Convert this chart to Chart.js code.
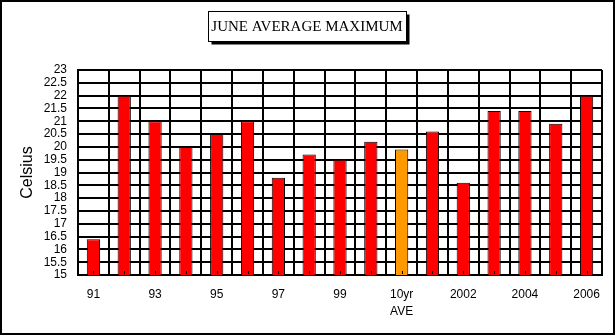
<!DOCTYPE html>
<html>
<head>
<meta charset="utf-8">
<title>June Average Maximum</title>
<script src="https://cdn.jsdelivr.net/npm/chart.js@4/dist/chart.umd.min.js"></script>
<style>
  html, body { margin: 0; padding: 0; background: #fff; }
  canvas { display: block; }
</style>
</head>
<body>
<canvas id="chart" width="616" height="336"></canvas>
<script>
// June average maximum temperature, 1991–2006, with the 1991–2000 ten-year average
const categories = ['91', '92', '93', '94', '95', '96', '97', '98', '99', '2000',
                    ['10yr', 'AVE'], '2001', '2002', '2003', '2004', '2005', '2006'];
const juneMaxCelsius = [16.4, 22.0, 21.0, 20.0, 20.5, 21.0, 18.8, 19.7, 19.5, 20.2,
                        19.9, 20.6, 18.6, 21.4, 21.4, 20.9, 22.0];
const celsiusTicks = [15, 15.5, 16, 16.5, 17, 17.5, 18, 18.5, 19, 19.5,
                      20, 20.5, 21, 21.5, 22, 22.5, 23];
const chartTitle = 'JUNE AVERAGE MAXIMUM';
const axisTitle = 'Celsius';

const AVERAGE_INDEX = categories.findIndex(c => Array.isArray(c) && c[0] === '10yr');
const SANS = "'Liberation Sans', Arial, sans-serif";
const SERIF = "'Liberation Serif', 'Times New Roman', serif";

// Page frame, boxed title with drop shadow, and inward category tick marks
const decorations = {
  id: 'decorations',
  afterLayout(chart) {
    // centre the title on the whole page rather than on the padded area
    const tb = chart.titleBlock;
    tb.left = 0;
    tb.right = chart.width - 2;
    tb.width = tb.right;
  },
  beforeDraw(chart) {
    const ctx = chart.ctx;
    ctx.save();
    ctx.fillStyle = '#fff';
    ctx.fillRect(0, 0, chart.width, chart.height);
    ctx.strokeStyle = '#000';
    ctx.lineWidth = 2;
    ctx.strokeRect(1, 1, chart.width - 3, chart.height - 3);

    const tb = chart.titleBlock;
    const opts = chart.options.plugins.title;
    ctx.font = `${opts.font.size}px ${opts.font.family}`;
    const w = ctx.measureText(chartTitle).width;
    const cx = (tb.left + tb.right) / 2;
    const cy = tb.top + opts.padding.top + opts.font.size * 1.2 / 2;
    const x0 = Math.round(cx - w / 2 - 3) + 0.5;
    const x1 = Math.round(cx + w / 2 + 3) + 0.5;
    const y0 = Math.round(cy - 16) + 0.5;
    const y1 = Math.round(cy + 14) + 0.5;
    ctx.fillStyle = '#000';
    ctx.fillRect(x0 + 3, y0 + 3, x1 - x0, y1 - y0);
    ctx.fillStyle = '#fff';
    ctx.fillRect(x0, y0, x1 - x0, y1 - y0);
    ctx.lineWidth = 1;
    ctx.strokeRect(x0, y0, x1 - x0, y1 - y0);
    ctx.restore();
  },
  afterDatasetsDraw(chart) {
    const ctx = chart.ctx;
    const xs = chart.scales.x;
    const bottom = chart.chartArea.bottom;
    ctx.save();
    ctx.strokeStyle = '#000';
    ctx.lineWidth = 1;
    ctx.beginPath();
    categories.forEach((_, i) => {
      const x = Math.round(xs.getPixelForValue(i)) + 0.5;
      ctx.moveTo(x, bottom - 1);
      ctx.lineTo(x, bottom - 4);
    });
    ctx.stroke();
    ctx.restore();
  }
};

new Chart(document.getElementById('chart'), {
  type: 'bar',
  data: {
    labels: categories,
    datasets: [{
      data: juneMaxCelsius,
      backgroundColor: c => c.dataIndex === AVERAGE_INDEX ? '#FF9900' : '#FF0000',
      borderColor: '#000',
      borderWidth: 1,
      categoryPercentage: 1,
      barPercentage: 0.43
    }]
  },
  options: {
    responsive: false,
    devicePixelRatio: 1,
    animation: false,
    layout: { padding: { top: 0, right: 14, bottom: 0, left: 0 } },
    plugins: {
      legend: { display: false },
      tooltip: { enabled: false },
      title: {
        display: true,
        text: chartTitle,
        color: '#000',
        font: { family: SERIF, size: 15, weight: 'normal' },
        padding: { top: 18, bottom: 34 }
      }
    },
    scales: {
      x: {
        grid: { color: '#000', lineWidth: 2, offset: true, drawTicks: false },
        border: { color: '#000', width: 2 },
        ticks: {
          autoSkip: false,
          maxRotation: 0,
          padding: 11,
          color: '#000',
          font: { family: SANS, size: 12, lineHeight: 1.4 },
          callback(value, index) {
            return index % 2 === 0 ? this.getLabelForValue(value) : '';
          }
        },
        afterFit(scale) { scale.height = 61; }
      },
      y: {
        min: 15,
        max: 23,
        grid: { color: '#000', lineWidth: 2, drawTicks: false },
        border: { color: '#000', width: 2 },
        afterBuildTicks(scale) { scale.ticks = celsiusTicks.map(v => ({ value: v })); },
        ticks: {
          autoSkip: false,
          padding: 11,
          color: '#000',
          font: { family: SANS, size: 12 },
          callback: v => String(v)
        },
        title: {
          display: true,
          text: axisTitle,
          color: '#000',
          font: { family: SANS, size: 16 },
          padding: { top: 18, bottom: 0 }
        },
        afterFit(scale) { scale.width = 78; }
      }
    }
  },
  plugins: [decorations]
});
</script>
</body>
</html>
